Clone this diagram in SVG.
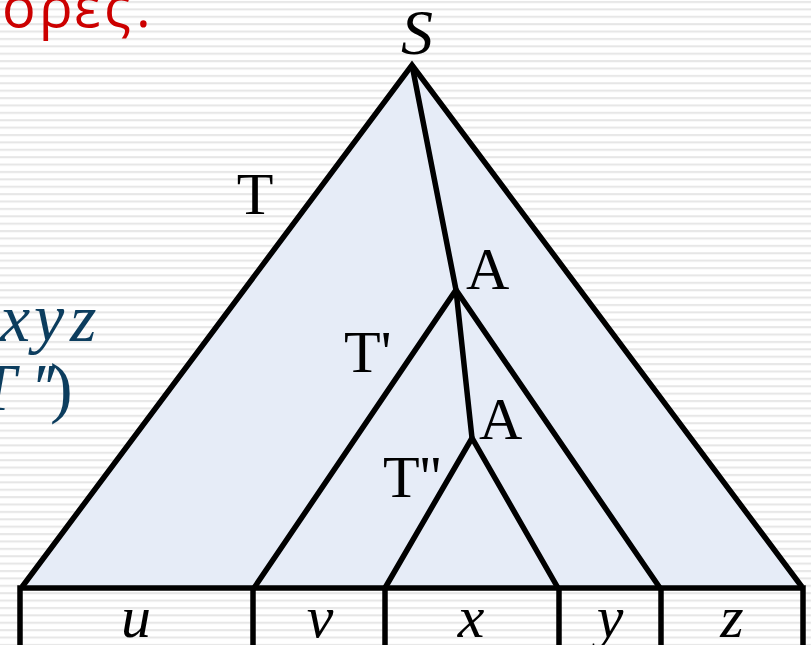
<svg xmlns="http://www.w3.org/2000/svg" width="811" height="645" viewBox="0 0 811 645">
  <defs>
    <pattern id="stripes" patternUnits="userSpaceOnUse" x="0" y="0" width="811" height="7.39">
      <rect x="0" y="0" width="811" height="7.39" fill="#ffffff"/>
      <rect x="0" y="1" width="811" height="2" fill="#e6e6e6"/>
    </pattern>
  </defs>
  <style>
    .edge { fill: none; stroke: #000; stroke-width: 5.5; stroke-linejoin: miter; stroke-linecap: butt; }
    .lbl { font-family: "Liberation Serif", "Times New Roman", serif; fill: #000; }
    .ital { font-style: italic; }
    .math { font-family: "Liberation Serif", "Times New Roman", serif; font-style: italic; fill: #0c3d5e; font-size: 68px; }
  </style>

  <rect x="0" y="0" width="811" height="645" fill="url(#stripes)"/>

  <g id="slide-text">
    <text x="2 39 74 104 136" y="27" font-family="'Open Sans', 'Noto Sans', 'DejaVu Sans', sans-serif" font-size="56" fill="#cc0000">ορες.</text>
    <text class="math" x="0 34 70" y="341">xyz</text>
    <text class="math" x="-22" y="410">T</text>
    <text class="math" x="30 40" y="410">′′</text>
    <text x="50" y="410" font-family="'Liberation Serif', serif" font-size="68" fill="#0c3d5e">)</text>
  </g>

  <g id="tree-T">
    <polygon points="412,65 22,586 802,586" fill="#e6ecf7"/>
    <polyline class="edge" points="22,587 412,65 802,587"/>
    <text class="lbl" x="255" y="214" font-size="60" text-anchor="middle">T</text>
    <text class="lbl ital" x="417" y="54" font-size="64" text-anchor="middle">S</text>
  </g>

  <g id="tree-Tprime">
    <polyline class="edge" points="254,588 456,290 660,588"/>
    <text class="lbl" x="344" y="372" font-size="60">T'</text>
    <text class="lbl" x="466" y="289" font-size="60">A</text>
  </g>

  <g id="tree-Tdoubleprime">
    <polyline class="edge" points="385,588 472,438 558,588"/>
    <text class="lbl" x="383" y="497" font-size="60">T''</text>
    <text class="lbl" x="479" y="439" font-size="60">A</text>
  </g>

  <g id="connectors">
    <polyline class="edge" points="412,65 456,290 472,438"/>
  </g>

  <g id="string-boxes">
    <polyline class="edge" points="20,650 20,588 803,588 803,650"/>
    <line class="edge" x1="253" y1="588" x2="253" y2="650"/>
    <line class="edge" x1="385" y1="588" x2="385" y2="650"/>
    <line class="edge" x1="559" y1="588" x2="559" y2="650"/>
    <line class="edge" x1="661" y1="588" x2="661" y2="650"/>
    <text class="lbl ital" x="136" y="637" font-size="60" text-anchor="middle">u</text>
    <text class="lbl ital" x="320" y="637" font-size="60" text-anchor="middle">v</text>
    <text class="lbl ital" x="471" y="637" font-size="60" text-anchor="middle">x</text>
    <text class="lbl ital" x="610" y="637" font-size="60" text-anchor="middle">y</text>
    <text class="lbl ital" x="732" y="637" font-size="60" text-anchor="middle">z</text>
  </g>
</svg>
